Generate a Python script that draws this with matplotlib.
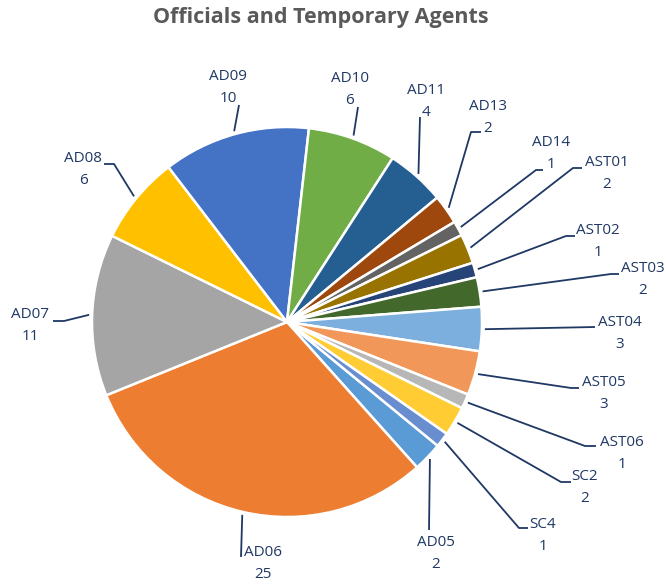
import matplotlib
matplotlib.use("Agg")
import matplotlib.pyplot as plt
import numpy as np

# %% data
categories = ["AD05", "AD06", "AD07", "AD08", "AD09", "AD10", "AD11", "AD13", "AD14",
              "AST01", "AST02", "AST03", "AST04", "AST05", "AST06", "SC2", "SC4"]
values = [2, 25, 11, 6, 10, 6, 4, 2, 1, 2, 1, 2, 3, 3, 1, 2, 1]

colors = ["#5B9BD5", "#ED7D31", "#A5A5A5", "#FFC000", "#4472C4", "#70AD47",
          "#255E91", "#9E480E", "#636363", "#997300", "#264478", "#43682B",
          "#7CAFDD", "#F1975A", "#B7B7B7", "#FFCD33", "#698ED0"]

# %% layout (pixel coords, y from top)
W, H = 666, 587
cx, cy, rad = 287, 322, 195

# name label centre, then the leader points between label and pie edge
label_xy = {
    "AD05": (436, 543), "AD06": (263, 552), "AD07": (30, 315), "AD08": (83, 159),
    "AD09": (228, 77), "AD10": (350, 79), "AD11": (426, 91), "AD13": (488, 106),
    "AD14": (551, 142), "AST01": (607, 163), "AST02": (598, 231), "AST03": (643, 268),
    "AST04": (620, 322), "AST05": (604, 383), "AST06": (622, 442), "SC2": (585, 477),
    "SC4": (543, 524),
}
leader_pts = {
    "AD05": [(429, 530)],
    "AD06": [(241, 557)],
    "AD07": [(64, 321), (53, 321)],
    "AD08": [(114, 164), (104, 164)],
    "AD09": [(239, 105)],
    "AD10": [(358, 107)],
    "AD11": [(420, 117)],
    "AD13": [(471, 132), (481, 132)],
    "AD14": [(536, 170), (543, 170)],
    "AST01": [(573, 168), (582, 168)],
    "AST02": [(566, 236), (575, 236)],
    "AST03": [(611, 274), (619, 274)],
    "AST04": [(595, 327)],
    "AST05": [(571, 388), (579, 388)],
    "AST06": [(585, 446), (596, 446)],
    "SC2": [(561, 482), (571, 482)],
    "SC4": [(519, 528), (528, 528)],
}

txt_col = "#203864"
line_col = "#1F3864"

def Y(y):
    return H - y

fig = plt.figure(figsize=(W / 100, H / 100), dpi=100)
ax = fig.add_axes([0, 0, 1, 1])

wedges, _ = ax.pie(values, colors=colors, startangle=-39.4, counterclock=False,
                   center=(cx, Y(cy)), radius=rad,
                   wedgeprops=dict(edgecolor="white", linewidth=1.8))

ax.set_xlim(0, W)
ax.set_ylim(0, H)
ax.set_aspect("equal")
ax.axis("off")

# %% labels + leader lines
for w, cat, val in zip(wedges, categories, values):
    mid = np.deg2rad((w.theta1 + w.theta2) / 2)
    ex = cx + (rad + 3) * np.cos(mid)
    ey = Y(cy) + (rad + 3) * np.sin(mid)
    xs = [ex] + [p[0] for p in leader_pts[cat]]
    ys = [ey] + [Y(p[1]) for p in leader_pts[cat]]
    ax.plot(xs, ys, color=line_col, lw=1.3, solid_capstyle="butt")
    lx, ly = label_xy[cat]
    ax.text(lx, Y(ly), cat, ha="center", va="center", fontsize=11,
            family="Open Sans", color=txt_col)
    ax.text(lx, Y(ly + 22), str(val), ha="center", va="center", fontsize=11,
            family="Open Sans", color=txt_col)

ax.text(321, Y(18), "Officials and Temporary Agents", ha="center", va="center",
        fontsize=15.5, fontweight="bold", family="Open Sans", color="#595959")

fig.savefig("out.png", dpi=100)
